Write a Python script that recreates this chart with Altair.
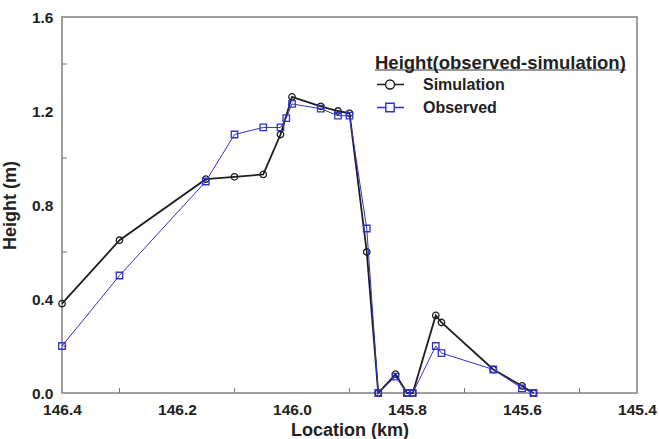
import altair as alt
import pandas as pd

# Surveyed cross-section heights along the channel (km chainage, m)
sim_km = [146.4, 146.3, 146.15, 146.1, 146.05, 146.02, 146.0, 145.95, 145.92, 145.9,
          145.87, 145.85, 145.82, 145.8, 145.79, 145.75, 145.74, 145.65, 145.6, 145.58]
sim_h = [0.38, 0.65, 0.91, 0.92, 0.93, 1.10, 1.26, 1.22, 1.20, 1.19,
         0.60, 0.0, 0.08, 0.0, 0.0, 0.33, 0.30, 0.10, 0.03, 0.0]

obs_km = [146.4, 146.3, 146.15, 146.1, 146.05, 146.02, 146.01, 146.0, 145.95, 145.92, 145.9,
          145.87, 145.85, 145.82, 145.8, 145.79, 145.75, 145.74, 145.65, 145.6, 145.58]
obs_h = [0.20, 0.50, 0.90, 1.10, 1.13, 1.13, 1.17, 1.23, 1.21, 1.18, 1.18,
         0.70, 0.0, 0.07, 0.0, 0.0, 0.20, 0.17, 0.10, 0.02, 0.0]

series_names = ["Simulation", "Observed"]
series_colors = ["#1e1e1e", "#3232c8"]

x_labels = [146.4, 146.2, 146.0, 145.8, 145.6, 145.4]
x_minor = [146.3, 146.1, 145.9, 145.7, 145.5]
y_labels = [0.0, 0.4, 0.8, 1.2, 1.6]
y_minor = [0.2, 0.6, 1.0, 1.4]

FONT = "Liberation Sans"
W, H = 575, 376

sim = pd.DataFrame({"km": sim_km, "h": sim_h, "i": range(len(sim_km))})
obs = pd.DataFrame({"km": obs_km, "h": obs_h, "i": range(len(obs_km))})

xs = alt.Scale(domain=[145.4, 146.4], reverse=True, nice=False, zero=False)
ys = alt.Scale(domain=[0, 1.6], nice=False, zero=True)

x_enc = alt.X("km:Q", scale=xs, title="Location (km)",
              axis=alt.Axis(values=x_labels, format=".1f", ticks=False, domain=False,
                            grid=False, labelPadding=9, titlePadding=4, labelFlush=False))
y_enc = alt.Y("h:Q", scale=ys, title="Height (m)",
              axis=alt.Axis(values=y_labels, format=".1f", ticks=False, domain=False,
                            grid=False, labelPadding=9, titlePadding=12, labelFlush=False))


def series(df, color, shape, width):
    base = alt.Chart(df).encode(x=x_enc, y=y_enc, order="i:Q")
    line = base.mark_line(color=color, strokeWidth=width)
    pts = base.mark_point(color=color, shape=shape, size=42, strokeWidth=1.3,
                          filled=False, opacity=1)
    return line + pts


sim_layer = series(sim, series_colors[0], "circle", 1.8)
obs_layer = series(obs, series_colors[1], "square", 1.0)

# inward minor ticks on the bottom and left edges
xt = alt.Chart(pd.DataFrame({"km": x_minor})).mark_rule(color="#777", strokeWidth=1).encode(
    x=alt.X("km:Q", scale=xs), y=alt.value(H), y2=alt.value(H - 5))
yt = alt.Chart(pd.DataFrame({"h": y_minor})).mark_rule(color="#777", strokeWidth=1).encode(
    y=alt.Y("h:Q", scale=ys), x=alt.value(0), x2=alt.value(5))

# legend symbols: marker with a short line through it
circ_path = "M-1,0L0.42,0M1.92,0L3.5,0M0.42,0A0.75,0.75,0,1,1,1.92,0A0.75,0.75,0,1,1,0.42,0"
sq_path = "M-1,0L0.47,0M1.87,0L3.5,0M0.47,-0.7L1.87,-0.7L1.87,0.7L0.47,0.7Z"

legend = alt.Legend(title="Height(observed-simulation)", orient="none",
                    legendX=313, legendY=37, padding=0, titleLimit=500,
                    titleFont=FONT, titleFontSize=18.5, titleFontWeight="bold", titleColor="#222",
                    titlePadding=4, labelFont=FONT, labelFontSize=16, labelFontWeight="bold",
                    labelColor="#222", labelOffset=32, rowPadding=7,
                    symbolSize=144, symbolStrokeWidth=1.4, symbolOpacity=1)

key = alt.Chart(pd.DataFrame({"series": series_names})).mark_point(opacity=0, filled=False).encode(
    color=alt.Color("series:N", scale=alt.Scale(domain=series_names, range=series_colors),
                    legend=legend),
    shape=alt.Shape("series:N", scale=alt.Scale(domain=series_names, range=[circ_path, sq_path]),
                    legend=legend),
)

underline = alt.Chart(pd.DataFrame({"a": [0]})).mark_rule(color="#333", strokeWidth=1.2).encode(
    x=alt.value(313), x2=alt.value(564), y=alt.value(53))

chart = alt.layer(xt, yt, sim_layer, obs_layer, key, underline).properties(
    width=W, height=H,
    background="white",
    autosize=alt.AutoSizeParams(type="none"),
    padding={"left": 62, "top": 17, "right": 22, "bottom": 46},
).configure_view(stroke="#808080", strokeWidth=1.5).configure_axis(
    labelFont=FONT, labelFontSize=15.5, labelFontWeight="bold", labelColor="#222",
    titleFont=FONT, titleFontSize=18, titleFontWeight="bold", titleColor="#222",
)

chart.save("out.html", embed_options={"renderer": "svg", "actions": False})
